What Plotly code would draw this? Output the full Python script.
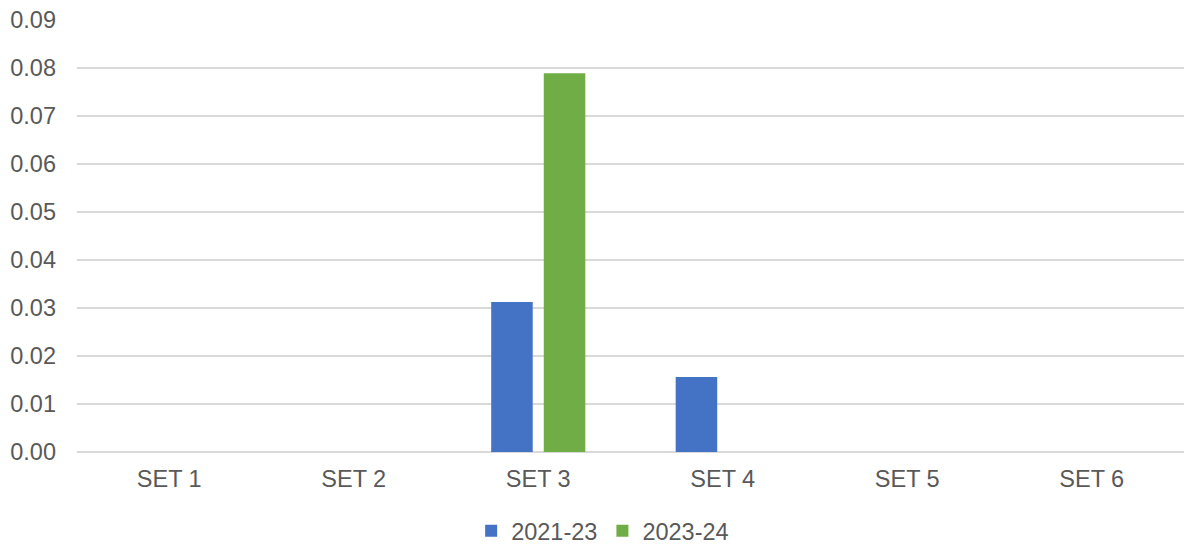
import plotly.graph_objects as go

categories = ["SET 1", "SET 2", "SET 3", "SET 4", "SET 5", "SET 6"]
series_2021_23 = [0, 0, 0.03125, 0.015625, 0, 0]
series_2023_24 = [0, 0, 0.0789, 0, 0, 0]
y_ticks = [0.00, 0.01, 0.02, 0.03, 0.04, 0.05, 0.06, 0.07, 0.08, 0.09]

FONT = "Liberation Sans, Arial, sans-serif"
TXT = "#595959"

fig = go.Figure()
fig.add_trace(go.Bar(x=categories, y=series_2021_23, name="2021-23",
                     marker=dict(color="#4472C4", line=dict(width=0))))
fig.add_trace(go.Bar(x=categories, y=series_2023_24, name="2023-24",
                     marker=dict(color="#70AD47", line=dict(width=0))))

fig.update_layout(
    width=1184, height=544,
    margin=dict(l=77, r=0, t=19.5, b=92, pad=0, autoexpand=False),
    paper_bgcolor="white", plot_bgcolor="white",
    barmode="group", bargap=0.43, bargroupgap=0.21,
    font=dict(family=FONT, size=23.5, color=TXT),
    showlegend=True,
    legend=dict(orientation="h", xref="container", x=0.509, xanchor="center",
                yref="container", y=0.024, yanchor="middle",
                font=dict(family=FONT, size=23.5, color=TXT),
                itemwidth=30, bgcolor="rgba(0,0,0,0)"),
)
fig.update_xaxes(showgrid=False, showline=False, zeroline=False,
                 ticks="", ticklabelstandoff=10, tickangle=0,
                 tickfont=dict(family=FONT, size=23.5, color=TXT))
fig.update_yaxes(range=[0, 0.09], tickvals=y_ticks, tickformat=".2f",
                 showgrid=True, gridcolor="#D9D9D9", gridwidth=1.5,
                 zeroline=True, zerolinecolor="#D9D9D9", zerolinewidth=1.5,
                 showline=False, ticks="", ticklabelstandoff=20,
                 tickfont=dict(family=FONT, size=23.5, color=TXT))

fig.write_html("out.html")
